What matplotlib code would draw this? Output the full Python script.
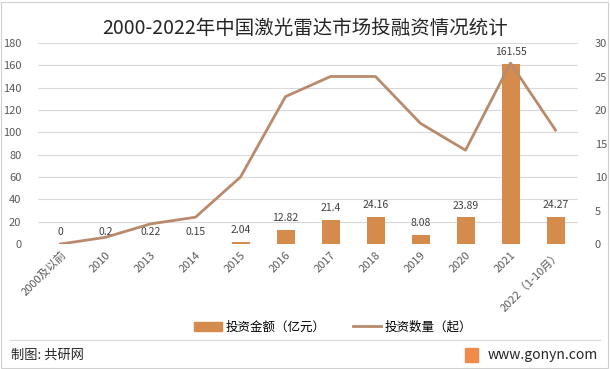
import matplotlib
matplotlib.use("Agg")
import matplotlib.pyplot as plt
from matplotlib.lines import Line2D
from matplotlib.patches import Patch, Rectangle

plt.rcParams['font.family'] = ['Noto Sans CJK SC', 'DejaVu Sans']

years = ["2000及以前", "2010", "2013", "2014", "2015", "2016", "2017",
         "2018", "2019", "2020", "2021", "2022（1-10月）"]
amount = [0, 0.2, 0.22, 0.15, 2.04, 12.82, 21.4, 24.16, 8.08, 23.89, 161.55, 24.27]
amount_labels = ["0", "0.2", "0.22", "0.15", "2.04", "12.82", "21.4", "24.16",
                 "8.08", "23.89", "161.55", "24.27"]
count = [0, 1, 3, 4, 10, 22, 25, 25, 18, 14, 27, 17]

bar_color = "#D58B4C"
line_color = "#B98A6B"
text_color = "#404040"

fig = plt.figure(figsize=(6.1, 3.69), dpi=100)
ax = fig.add_axes([38 / 610, 1 - 244 / 369, 540 / 610, 201 / 369])
ax2 = ax.twinx()

x = list(range(len(years)))
ax.bar(x, amount, width=0.4, color=bar_color, zorder=2)
for xi, v, lab in zip(x, amount, amount_labels):
    ax.text(xi, v + 6, lab, ha="center", va="bottom", fontsize=7.5, color=text_color)

ax2.plot(x, count, color=line_color, linewidth=2, zorder=3)

ax.set_ylim(0, 180)
ax.set_yticks(range(0, 181, 20))
ax2.set_ylim(0, 30)
ax2.set_yticks(range(0, 31, 5))
ax.set_xlim(-0.5, len(years) - 0.5)
ax.set_xticks(x)
ax.set_xticklabels(years, rotation=45, ha="right", rotation_mode="anchor", fontsize=7.5, color=text_color)

ax.grid(axis="y", color="#D9D9D9", linewidth=0.8, zorder=0)
for a in (ax, ax2):
    for s in a.spines.values():
        s.set_visible(False)
    a.tick_params(length=0, labelsize=8, labelcolor="#595959")
ax.tick_params(axis="y", pad=12)
ax2.tick_params(axis="y", pad=12)
ax.tick_params(axis="x", pad=4)

fig.text(0.5, 1 - 28 / 369, "2000-2022年中国激光雷达市场投融资情况统计", ha="center", va="center",
         fontsize=14, color="#262626")

handles = [Patch(color=bar_color), Line2D([0], [0], color=line_color, linewidth=2)]
fig.legend(handles, ["投资金额（亿元）", "投资数量（起）"], loc="center", bbox_to_anchor=(333 / 610, 1 - 327 / 369),
           ncol=2, frameon=False, fontsize=9, handlelength=2.2, columnspacing=2.2, handletextpad=0.3)

fig.add_artist(Line2D([10 / 610, 600 / 610], [1 - 340 / 369] * 2, color="#D9D9D9", linewidth=0.8))
fig.text(11 / 610, 1 - 355 / 369, "制图: 共研网", ha="left", va="center", fontsize=9.5, color="#262626")
fig.text(598 / 610, 1 - 355 / 369, "www.gonyn.com", ha="right", va="center", fontsize=10, color="#262626")
fig.add_artist(Rectangle((465 / 610, 1 - 362 / 369), 13 / 610, 14 / 369, color="#F08A4B",
                         transform=fig.transFigure))
fig.add_artist(Rectangle((1 / 610, 1 / 369), 607 / 610, 366 / 369, fill=False, edgecolor="#D0D0D0",
                         linewidth=0.8, transform=fig.transFigure))

fig.savefig("out.png", dpi=100)
